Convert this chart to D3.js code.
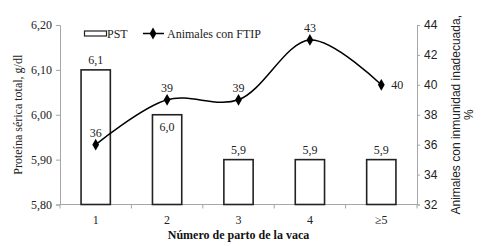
<!DOCTYPE html>
<html><head><meta charset="utf-8">
<script src="https://cdn.jsdelivr.net/npm/d3@7"></script>
<style>body{margin:0;background:#fff}svg{display:block}</style>
</head><body>
<svg id="c" width="485" height="246"></svg>
<script>
const categories = ["1","2","3","4","≥5"];
const pstValues = [6.1, 6.0, 5.9, 5.9, 5.9];
const pstLabels = ["6,1","6,0","5,9","5,9","5,9"];
const ftipValues = [36, 39, 39, 43, 40];
const leftTicks = [5.8, 5.9, 6.0, 6.1, 6.2];
const rightTicks = [32, 34, 36, 38, 40, 42, 44];

const svg = d3.select("#c");
const L = 60, R = 417, T = 25, B = 204.5;
const serif = "'Liberation Serif', 'DejaVu Serif', serif";
const sans = "'Liberation Sans', Arial, sans-serif";
const axisCol = "#a6a6a6";

const x = d3.scaleBand().domain(categories).range([L, R]);
const yL = d3.scaleLinear().domain([5.8, 6.2]).range([B, T]);
const yR = d3.scaleLinear().domain([32, 44]).range([B, T]);
const fmt2 = d => d3.format(".2f")(d).replace(".", ",");

// left axis
const gl = svg.append("g").attr("transform", `translate(${L},0)`)
  .call(d3.axisLeft(yL).tickValues(leftTicks).tickFormat(fmt2).tickSizeOuter(0).tickSize(4));
gl.select(".domain").attr("stroke", axisCol);
gl.selectAll(".tick line").attr("stroke", axisCol);
gl.selectAll(".tick text").attr("font-family", serif).attr("font-size", 12).attr("fill", "#222").attr("x", -8);

// right axis
const gr = svg.append("g").attr("transform", `translate(${R},0)`)
  .call(d3.axisRight(yR).tickValues(rightTicks).tickSizeOuter(0).tickSize(3));
gr.select(".domain").attr("stroke", axisCol);
gr.selectAll(".tick line").attr("stroke", axisCol);
gr.selectAll(".tick text").attr("font-family", sans).attr("font-size", 12).attr("fill", "#222").attr("x", 7);

// x axis
const gx = svg.append("g").attr("transform", `translate(0,${B})`);
gx.append("line").attr("x1", L).attr("x2", R).attr("stroke", axisCol);
const bounds = categories.map(c => x(c)).concat([R]);
gx.selectAll(".tk").data(bounds).join("line")
  .attr("x1", d => d).attr("x2", d => d).attr("y1", 0).attr("y2", 4).attr("stroke", axisCol);
gx.selectAll(".lb").data(categories).join("text")
  .attr("x", d => x(d) + x.bandwidth() / 2).attr("y", 19)
  .attr("text-anchor", "middle").attr("font-family", serif).attr("font-size", 12).attr("fill", "#222")
  .text(d => d);

// bars
const bw = x.bandwidth() * 0.41;
svg.selectAll(".bar").data(categories).join("rect")
  .attr("x", (d) => x(d) + x.bandwidth() / 2 - bw / 2)
  .attr("y", (d, i) => yL(pstValues[i]))
  .attr("width", bw)
  .attr("height", (d, i) => B - yL(pstValues[i]))
  .attr("fill", "#fff").attr("stroke", "#222").attr("stroke-width", 1.6);
svg.selectAll(".bl").data(categories).join("text")
  .attr("x", d => x(d) + x.bandwidth() / 2)
  .attr("y", (d, i) => i === 1 ? yL(pstValues[i]) + 16 : yL(pstValues[i]) - 6)
  .attr("text-anchor", "middle").attr("font-family", serif).attr("font-size", 12).attr("fill", "#222")
  .text((d, i) => pstLabels[i]);

// line
const pts = categories.map((c, i) => [x(c) + x.bandwidth() / 2, yR(ftipValues[i])]);
svg.append("path").attr("d", d3.line().curve(d3.curveCatmullRom.alpha(0.5))(pts))
  .attr("fill", "none").attr("stroke", "#000").attr("stroke-width", 1.5);
const diamond = d3.symbol().type(d3.symbolDiamond).size(40);
svg.selectAll(".mk").data(pts).join("path")
  .attr("transform", d => `translate(${d[0]},${d[1]})`).attr("d", diamond).attr("fill", "#000");
svg.selectAll(".ll").data(pts).join("text")
  .attr("x", (d, i) => i === 4 ? d[0] + 10 : d[0])
  .attr("y", (d, i) => i === 4 ? d[1] + 4 : d[1] - 8)
  .attr("text-anchor", (d, i) => i === 4 ? "start" : "middle")
  .attr("font-family", serif).attr("font-size", 12).attr("fill", "#222")
  .text((d, i) => ftipValues[i]);

// legend
svg.append("rect").attr("x", 84.5).attr("y", 31).attr("width", 22).attr("height", 5)
  .attr("fill", "#fff").attr("stroke", "#222").attr("stroke-width", 1.2);
svg.append("text").attr("x", 107).attr("y", 38).attr("font-family", serif).attr("font-size", 12).attr("fill", "#222").text("PST");
svg.append("line").attr("x1", 143).attr("x2", 164).attr("y1", 33.5).attr("y2", 33.5).attr("stroke", "#000").attr("stroke-width", 1.5);
svg.append("path").attr("transform", "translate(153,33.5)").attr("d", diamond).attr("fill", "#000");
svg.append("text").attr("x", 167).attr("y", 38).attr("font-family", serif).attr("font-size", 12).attr("fill", "#222").text("Animales con FTIP");

// axis titles
svg.append("text").attr("x", (L + R) / 2).attr("y", 239).attr("text-anchor", "middle")
  .attr("font-family", serif).attr("font-size", 12).attr("font-weight", "bold").attr("fill", "#111")
  .text("Número de parto de la vaca");
svg.append("text").attr("transform", `translate(22,${(T + B) / 2}) rotate(-90)`).attr("text-anchor", "middle")
  .attr("font-family", serif).attr("font-size", 12).attr("fill", "#222").text("Proteína sérica total, g/dl");
const rt = svg.append("text").attr("transform", `translate(460,${(T + B) / 2}) rotate(-90)`).attr("text-anchor", "middle")
  .attr("font-family", sans).attr("font-size", 12).attr("fill", "#222");
rt.append("tspan").attr("x", 0).attr("dy", 0).text("Animales con inmunidad inadecuada,");
rt.append("tspan").attr("x", 0).attr("dy", 13).text("%");
</script>
</body></html>
